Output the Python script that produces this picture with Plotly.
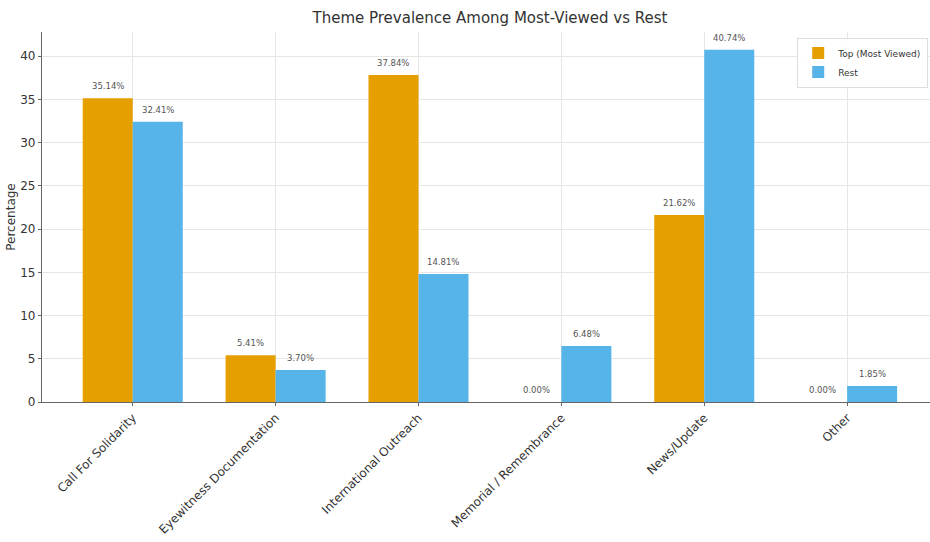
import plotly.graph_objects as go

categories = ["Call For Solidarity", "Eyewitness Documentation", "International Outreach",
              "Memorial / Remembrance", "News/Update", "Other"]
top_values = [35.14, 5.41, 37.84, 0.00, 21.62, 0.00]
rest_values = [32.41, 3.70, 14.81, 6.48, 40.74, 1.85]
series_names = ["Top (Most Viewed)", "Rest"]
y_ticks = [0, 5, 10, 15, 20, 25, 30, 35, 40]

ORANGE = "#E69F00"
BLUE = "#56B4E9"
BAR_W = 0.35

x_pos = list(range(len(categories)))

fig = go.Figure()
fig.add_trace(go.Bar(x=[p - BAR_W / 2 for p in x_pos], y=top_values, width=BAR_W,
                     name=series_names[0], marker=dict(color=ORANGE, line=dict(width=0))))
fig.add_trace(go.Bar(x=[p + BAR_W / 2 for p in x_pos], y=rest_values, width=BAR_W,
                     name=series_names[1], marker=dict(color=BLUE, line=dict(width=0))))

# value labels above each bar
for offset, vals in ((-BAR_W / 2, top_values), (BAR_W / 2, rest_values)):
    for p, v in zip(x_pos, vals):
        fig.add_annotation(x=p + offset, y=v, text=f"{v:.2f}%", showarrow=False,
                           yanchor="bottom", yshift=5,
                           font=dict(size=8.5, color="#555555", family="DejaVu Sans"))

fig.update_layout(
    width=930, height=542,
    margin=dict(l=42, r=0, t=32, b=140),
    plot_bgcolor="white", paper_bgcolor="white",
    font=dict(family="DejaVu Sans", color="#333333"),
    title=dict(text="Theme Prevalence Among Most-Viewed vs Rest", x=490 / 930, xanchor="center",
               y=1 - 18 / 542, yanchor="middle",
               font=dict(size=15, color="#333333")),
    barmode="overlay",
    showlegend=True,
    legend=dict(x=0.998, y=0.985, xanchor="right", yanchor="top",
                bgcolor="rgba(255,255,255,0.9)", bordercolor="#dddddd", borderwidth=1,
                font=dict(size=9, color="#333333"), tracegroupgap=0, itemwidth=30),
)
fig.update_xaxes(
    range=[-0.635, 5.58], tickmode="array", tickvals=x_pos, ticktext=categories,
    tickangle=-45, tickfont=dict(size=12, color="#333333"),
    showgrid=True, gridcolor="#e6e6e6", gridwidth=1,
    showline=True, linecolor="#666666", linewidth=1.2,
    ticks="outside", ticklen=3, tickcolor="#666666", zeroline=False,
)
fig.update_yaxes(
    range=[0, 42.8], tickmode="array", tickvals=y_ticks,
    tickfont=dict(size=12, color="#333333"),
    title=dict(text="Percentage", font=dict(size=12, color="#333333"), standoff=2),
    showgrid=True, gridcolor="#e6e6e6", gridwidth=1,
    showline=True, linecolor="#666666", linewidth=1.2,
    ticks="outside", ticklen=3, tickcolor="#666666", zeroline=False,
)

fig.write_html("out.html")
